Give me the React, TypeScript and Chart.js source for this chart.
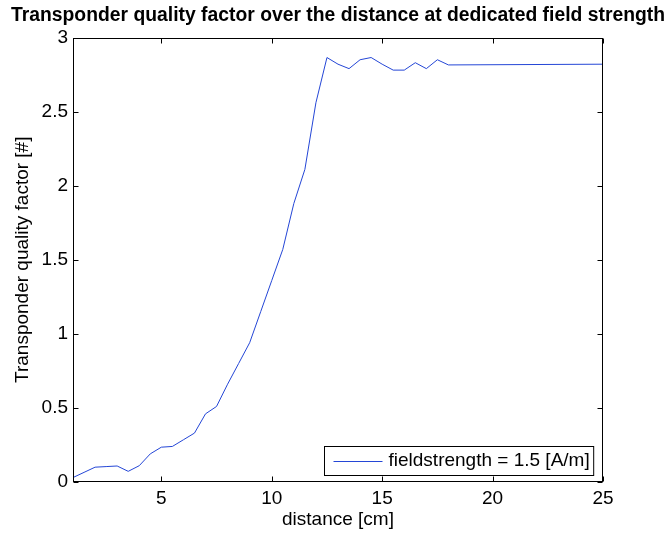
import React, { useEffect, useRef } from 'react';
import { Chart, registerables } from 'chart.js';

Chart.register(...registerables);

const titleText = 'Transponder quality factor over the distance at dedicated field strength';
const xLabel = 'distance [cm]';
const yLabel = 'Transponder quality factor [#]';
const seriesLabel = 'fieldstrength = 1.5 [A/m]';

const distances = [1, 1.5, 2, 2.5, 3, 3.5, 4, 4.5, 5, 5.5, 6, 6.5, 7, 7.5, 8, 8.5, 9, 9.5, 10, 10.5, 11, 11.5, 12, 12.5, 13, 13.5, 14, 14.5, 15, 15.5, 16, 16.5, 17, 17.5, 18, 25];
const quality = [0.03, 0.065, 0.1, 0.104, 0.108, 0.072, 0.11, 0.19, 0.235, 0.24, 0.285, 0.33, 0.46, 0.51, 0.66, 0.8, 0.94, 1.15, 1.36, 1.57, 1.88, 2.11, 2.56, 2.865, 2.82, 2.79, 2.85, 2.865, 2.82, 2.78, 2.78, 2.83, 2.79, 2.85, 2.815, 2.82];

const xTicks = [5, 10, 15, 20, 25];
const yTicks = [0, 0.5, 1, 1.5, 2, 2.5, 3];

const FONT = '"Liberation Sans", Arial, Helvetica, sans-serif';
const LINE_COLOR = '#2446d6';

const framePlugin = {
  id: 'matlabFrame',
  afterDatasetsDraw(chart: any) {
    const { ctx, chartArea: a, scales } = chart;
    ctx.save();
    ctx.strokeStyle = '#000';
    ctx.lineWidth = 1;
    const L = Math.round(a.left) + 0.5;
    const R = Math.round(a.right) - 0.5;
    const T = Math.round(a.top) + 0.5;
    const B = Math.round(a.bottom) - 0.5;
    const tl = 5;
    ctx.beginPath();
    xTicks.forEach((v) => {
      const px = Math.round(scales.x.getPixelForValue(v)) + 0.5;
      ctx.moveTo(px, B);
      ctx.lineTo(px, B - tl);
      ctx.moveTo(px, T);
      ctx.lineTo(px, T + tl);
    });
    yTicks.forEach((v) => {
      const py = Math.round(scales.y.getPixelForValue(v)) + 0.5;
      ctx.moveTo(L, py);
      ctx.lineTo(L + tl, py);
      ctx.moveTo(R, py);
      ctx.lineTo(R - tl, py);
    });
    ctx.stroke();
    ctx.strokeRect(L, T, R - L, B - T);

    // legend box (bottom right, inside axes)
    const ds = chart.data.datasets[0];
    ctx.font = `19px ${FONT}`;
    const tw = ctx.measureText(ds.label).width;
    const padL = 9, sample = 49, gap = 6, padR = 4;
    const w = padL + sample + gap + tw + padR;
    const h = 29;
    const bx = Math.round(a.right - 10 - w) + 0.5;
    const by = Math.round(a.bottom - 7 - h) + 0.5;
    ctx.fillStyle = '#fff';
    ctx.fillRect(bx, by, w, h);
    ctx.strokeStyle = '#000';
    ctx.strokeRect(bx, by, w, h);
    const cy = by + h / 2;
    ctx.beginPath();
    ctx.strokeStyle = ds.borderColor;
    ctx.moveTo(bx + padL, Math.round(cy) + 0.5);
    ctx.lineTo(bx + padL + sample, Math.round(cy) + 0.5);
    ctx.stroke();
    ctx.fillStyle = '#000';
    ctx.textBaseline = 'middle';
    ctx.textAlign = 'left';
    ctx.fillText(ds.label, bx + padL + sample + gap, cy);
    ctx.restore();
  },
};

export default function App() {
  const ref = useRef<HTMLCanvasElement | null>(null);

  useEffect(() => {
    if (!ref.current) return;
    const chart = new Chart(ref.current, {
      type: 'line',
      data: {
        datasets: [
          {
            label: seriesLabel,
            data: distances.map((d, i) => ({ x: d, y: quality[i] })),
            borderColor: LINE_COLOR,
            borderWidth: 1,
            pointRadius: 0,
            fill: false,
            tension: 0,
          },
        ],
      },
      options: {
        animation: false,
        responsive: false,
        devicePixelRatio: 1,
        layout: { padding: { left: 11, right: 0, top: 0, bottom: 0 } },
        plugins: {
          legend: { display: false },
          tooltip: { enabled: false },
          title: {
            display: true,
            text: titleText,
            color: '#000',
            font: { family: FONT, size: 19.6, weight: 'bold' },
            padding: { top: 4, bottom: 10 },
          },
        },
        scales: {
          x: {
            type: 'linear',
            min: 1,
            max: 25,
            grid: { display: false, drawTicks: false },
            border: { display: false },
            afterBuildTicks: (s: any) => {
              s.ticks = xTicks.map((v) => ({ value: v }));
            },
            afterFit: (s: any) => {
              s.height = 52;
            },
            ticks: {
              color: '#000',
              font: { family: FONT, size: 19 },
              padding: 5,
              maxRotation: 0,
              autoSkip: false,
              callback: (v: any) => String(v),
            },
            title: {
              display: true,
              text: xLabel,
              color: '#000',
              font: { family: FONT, size: 19 },
              padding: { top: 0, bottom: 3 },
            },
          },
          y: {
            type: 'linear',
            min: 0,
            max: 3,
            grid: { display: false, drawTicks: false },
            border: { display: false },
            afterBuildTicks: (s: any) => {
              s.ticks = yTicks.map((v) => ({ value: v }));
            },
            afterFit: (s: any) => {
              s.width = 62;
            },
            ticks: {
              color: '#000',
              font: { family: FONT, size: 19 },
              padding: 5,
              autoSkip: false,
              callback: (v: any) => String(v),
            },
            title: {
              display: true,
              text: yLabel,
              color: '#000',
              font: { family: FONT, size: 19 },
              padding: { top: 0.5, bottom: 0 },
            },
          },
          y2: {
            type: 'linear',
            position: 'right',
            display: true,
            grid: { display: false, drawTicks: false },
            border: { display: false },
            ticks: { display: false },
            afterFit: (s: any) => {
              s.width = 62;
            },
          },
        },
      },
      plugins: [framePlugin],
    } as any);
    return () => chart.destroy();
  }, []);

  return (
    <div style={{ position: 'fixed', left: 0, top: 0, width: 665, height: 534, background: '#fff' }}>
      <canvas ref={ref} width={665} height={534} style={{ display: 'block' }} />
    </div>
  );
}
